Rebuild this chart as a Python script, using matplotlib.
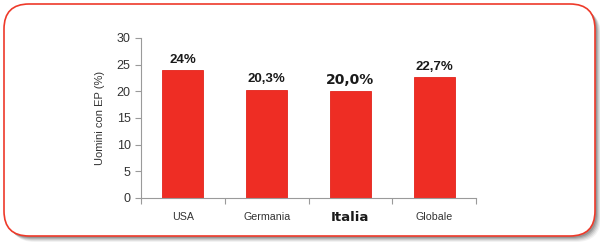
import matplotlib.pyplot as plt
from matplotlib.patches import FancyBboxPatch

plt.rcParams['font.family'] = ['Liberation Sans', 'DejaVu Sans']

# dati
categorie = ['USA', 'Germania', 'Italia', 'Globale']
valori = [24.0, 20.3, 20.0, 22.7]
etichette = ['24%', '20,3%', '20,0%', '22,7%']

rosso = '#EE2D24'
grigio = '#9A9A9A'

fig = plt.figure(figsize=(6, 2.42), dpi=100)

# cornice con angoli arrotondati e ombra (coordinate in pixel)
bg = fig.add_axes([0, 0, 1, 1])
bg.set_xlim(0, 600)
bg.set_ylim(242, 0)
bg.axis('off')
for i, a in enumerate([0.05, 0.07, 0.09, 0.12, 0.15]):
    off = 5 - i
    bg.add_patch(FancyBboxPatch((4 + off + 1, 4 + off + 1), 591, 232,
                                boxstyle="round,pad=0,rounding_size=25",
                                facecolor='black', edgecolor='none', alpha=a))
bg.add_patch(FancyBboxPatch((4, 4), 591, 232,
                            boxstyle="round,pad=0,rounding_size=25",
                            facecolor='white', edgecolor='#EE3A2A', linewidth=1.2))

ax = fig.add_axes([141 / 600, 44 / 242, 335 / 600, 160 / 242])
ax.patch.set_alpha(0)
x = range(len(categorie))
bars = ax.bar(x, valori, width=0.49, color=rosso, edgecolor='#E2241B', linewidth=0.6)

ax.set_xlim(-0.5, len(categorie) - 0.5)
ax.set_ylim(0, 30)
ax.set_yticks([0, 5, 10, 15, 20, 25, 30])
ax.tick_params(axis='y', labelsize=9, colors=grigio, labelcolor='#333333', length=4, width=0.8)

# tick x ai confini delle categorie
ax.set_xticks([i - 0.5 for i in range(len(categorie) + 1)])
ax.set_xticklabels([])
ax.tick_params(axis='x', colors=grigio, length=4, width=0.8)
for i, c in enumerate(categorie):
    if c == 'Italia':
        ax.text(i, -2.4, c, ha='center', va='top', fontsize=9.5, fontweight='heavy',
                family='DejaVu Sans', color='#1a1a1a')
    else:
        ax.text(i, -2.6, c, ha='center', va='top', fontsize=7.7, color='#333333')

for i, (v, lab) in enumerate(zip(valori, etichette)):
    if categorie[i] == 'Italia':
        ax.text(i, v + 0.8, lab, ha='center', va='bottom', fontsize=10, fontweight='heavy',
                family='DejaVu Sans', color='#1a1a1a')
    else:
        ax.text(i, v + 0.8, lab, ha='center', va='bottom', fontsize=9.5, fontweight='bold',
                color='#1a1a1a')

for s in ['top', 'right']:
    ax.spines[s].set_visible(False)
ax.spines['left'].set_color(grigio)
ax.spines['bottom'].set_color(grigio)
ax.spines['left'].set_linewidth(0.8)
ax.spines['bottom'].set_linewidth(0.8)

ax.set_ylabel('Uomini con EP (%)', fontsize=8, color='#333333', labelpad=8)

fig.savefig('out.png', dpi=100)
